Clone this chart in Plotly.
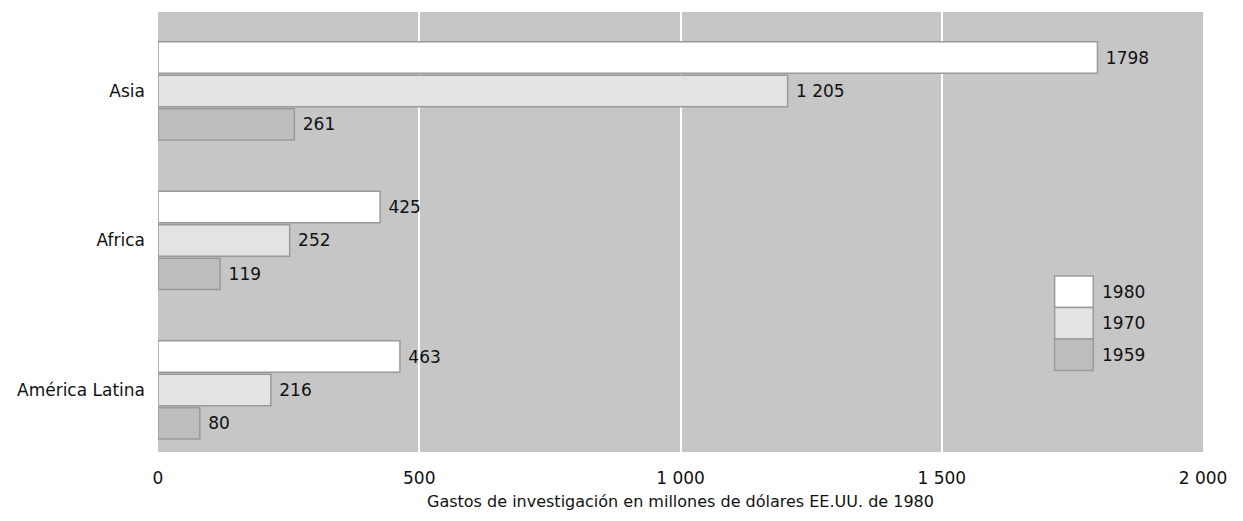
import plotly.graph_objects as go

regions = ["América Latina", "Africa", "Asia"]
years = ["1959", "1970", "1980"]
spend_1959 = [80, 119, 261]
spend_1970 = [216, 252, 1205]
spend_1980 = [463, 425, 1798]
labels_1959 = ["80", "119", "261"]
labels_1970 = ["216", "252", "1 205"]
labels_1980 = ["463", "425", "1798"]
tick_vals = [0, 500, 1000, 1500, 2000]
tick_text = ["0", "500", "1 000", "1 500", "2 000"]

FILL = {"1959": "#bdbdbd", "1970": "#e3e3e3", "1980": "#ffffff"}
FONT = "DejaVu Sans, Arial, sans-serif"

fig = go.Figure()
for year, vals, labs in zip(years, [spend_1959, spend_1970, spend_1980],
                            [labels_1959, labels_1970, labels_1980]):
    fig.add_trace(go.Bar(
        y=regions, x=vals, orientation="h", name=year,
        marker=dict(color=FILL[year], line=dict(color="#9a9a9a", width=1.5)),
        text=[" " + t for t in labs], textposition="outside",
        textfont=dict(size=17, color="#111", family=FONT),
        cliponaxis=False, showlegend=False,
    ))

# legend drawn as one stacked column of swatches
step = 0.0715
for i, year in enumerate(reversed(years)):
    y1 = 0.40 - i * step
    fig.add_shape(type="rect", xref="paper", yref="paper",
                  x0=0.858, x1=0.895, y0=y1 - step, y1=y1,
                  fillcolor=FILL[year], line=dict(color="#9a9a9a", width=1.5))
    fig.add_annotation(xref="paper", yref="paper", x=0.901, y=y1 - step / 2,
                       text=year, showarrow=False, xanchor="left", yanchor="middle",
                       font=dict(size=17, color="#111", family=FONT))

# page body adds 8px margin, so the figure is 8px smaller and shifted
fig.update_layout(
    width=1235, height=513,
    barmode="group", bargap=0.33, bargroupgap=0.06,
    margin=dict(l=150, r=40, t=4, b=69),
    plot_bgcolor="#c6c6c6", paper_bgcolor="white",
    font=dict(family=FONT, size=16, color="#111"),
    xaxis=dict(range=[0, 2000], tickvals=tick_vals, ticktext=tick_text,
               showgrid=True, gridcolor="white", gridwidth=2, zeroline=False,
               ticklabelstandoff=14, tickfont=dict(size=17),
               title=dict(text="Gastos de investigación en millones de dólares EE.UU. de 1980",
                          font=dict(size=16), standoff=8)),
    yaxis=dict(categoryorder="array", categoryarray=regions,
               range=[-0.415, 2.528], showgrid=False, zeroline=False,
               ticklabelstandoff=12, tickfont=dict(size=17)),
)

fig.write_html("out.html")
